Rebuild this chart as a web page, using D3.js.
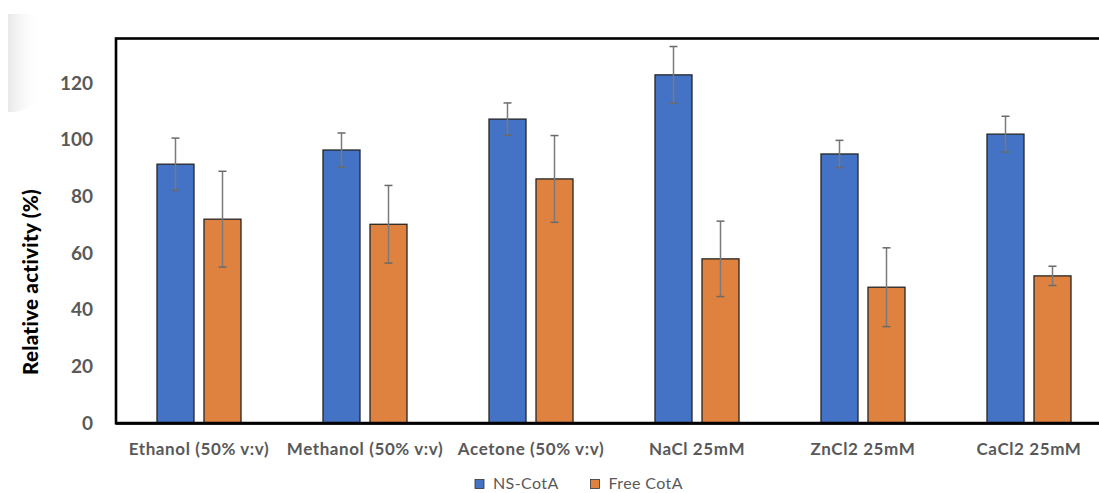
<!DOCTYPE html>
<html>
<head>
<meta charset="utf-8">
<script src="https://cdn.jsdelivr.net/npm/d3@7"></script>
<style>
  html, body { margin: 0; padding: 0; background: #fff; }
  svg { display: block; font-family: Lato, "Open Sans", sans-serif; }
</style>
</head>
<body>
<svg id="chart" width="1099" height="493"></svg>
<script>
// Relative activity of immobilised vs free CotA after solvent / salt exposure
const categories = ["Ethanol (50% v:v)", "Methanol (50% v:v)", "Acetone (50% v:v)", "NaCl 25mM", "ZnCl2 25mM", "CaCl2 25mM"];
const seriesNames = ["NS-CotA", "Free CotA"];
const nsCotA = [91.4, 96.4, 107.3, 122.9, 95.0, 102.0];
const nsCotAErr = [9.2, 6.0, 5.7, 10.0, 4.8, 6.3];
const freeCotA = [72.0, 70.2, 86.2, 58.0, 48.0, 52.0];
const freeCotAErr = [16.9, 13.7, 15.3, 13.3, 13.9, 3.4];
const yTicks = [0, 20, 40, 60, 80, 100, 120];
const colors = ["#4472C4", "#E0823F"];

const svg = d3.select("#chart");

// faint shaded corner at the top left
const defs = svg.append("defs");
const grad = defs.append("linearGradient").attr("id", "corner").attr("x1", "0").attr("x2", "1");
grad.append("stop").attr("offset", "0").attr("stop-color", "#e8e8e8");
grad.append("stop").attr("offset", "1").attr("stop-color", "#ffffff").attr("stop-opacity", 0);
svg.append("path")
  .attr("d", "M8,14 H42 V80 Q42,108 14,112 H8 Z")
  .attr("fill", "url(#corner)");

const plot = { left: 116, top: 38.5, right: 1112, bottom: 423.3 };

const x0 = d3.scaleBand().domain(categories).range([plot.left, plot.right]).padding(0);
const groupW = 84;
const x1 = d3.scaleBand().domain(seriesNames).range([0, groupW]).paddingInner(10 / 47).paddingOuter(0);
const y = d3.scaleLinear().domain([0, 120]).range([plot.bottom, plot.bottom - 120 * 2.835]);

// plot-area frame
svg.append("rect")
  .attr("x", plot.left).attr("y", plot.top)
  .attr("width", plot.right - plot.left).attr("height", plot.bottom - plot.top)
  .attr("fill", "none").attr("stroke", "#000").attr("stroke-width", 2.6);

// y axis labels
const yAxis = d3.axisLeft(y).tickValues(yTicks).tickSize(0).tickPadding(23);
const gy = svg.append("g").attr("transform", `translate(${plot.left},0)`).call(yAxis);
gy.select(".domain").remove();
gy.selectAll("text")
  .attr("fill", "#595959").style("font-size", "19px").style("font-weight", "bold")
  .style("font-family", "Lato, sans-serif");

// bars
const rows = categories.map((c, i) => ({
  cat: c,
  vals: [
    { s: seriesNames[0], v: nsCotA[i], e: nsCotAErr[i] },
    { s: seriesNames[1], v: freeCotA[i], e: freeCotAErr[i] }
  ]
}));

const groups = svg.append("g").selectAll("g").data(rows).join("g")
  .attr("transform", d => `translate(${x0(d.cat) + (x0.bandwidth() - groupW) / 2},0)`);

groups.selectAll("rect").data(d => d.vals).join("rect")
  .attr("x", d => x1(d.s))
  .attr("y", d => y(d.v))
  .attr("width", x1.bandwidth())
  .attr("height", d => y(0) - y(d.v))
  .attr("fill", (d, i) => colors[i])
  .attr("stroke", "#262626")
  .attr("stroke-width", 1.3);

// error bars
const eb = groups.selectAll("g.err").data(d => d.vals).join("g").attr("class", "err")
  .attr("transform", d => `translate(${x1(d.s) + x1.bandwidth() / 2},0)`);
eb.append("line")
  .attr("x1", 0).attr("x2", 0)
  .attr("y1", d => y(d.v + d.e)).attr("y2", d => y(d.v - d.e))
  .attr("stroke", "#7a7a7a").attr("stroke-width", 1.5);
eb.selectAll("line.cap").data(d => [d.v + d.e, d.v - d.e]).join("line").attr("class", "cap")
  .attr("x1", -4).attr("x2", 4)
  .attr("y1", v => y(v)).attr("y2", v => y(v))
  .attr("stroke", "#6a6a6a").attr("stroke-width", 1.5);

// baseline
svg.append("line")
  .attr("x1", plot.left).attr("x2", plot.right)
  .attr("y1", y(0)).attr("y2", y(0))
  .attr("stroke", "#000").attr("stroke-width", 3);

// category labels
const xAxis = d3.axisBottom(x0).tickSize(0).tickPadding(20);
const gx = svg.append("g").attr("transform", `translate(0,${y(0)})`).call(xAxis);
gx.select(".domain").remove();
gx.selectAll("text")
  .attr("fill", "#595959").style("font-size", "17px").style("font-weight", "bold")
  .style("letter-spacing", "0.6px")
  .style("font-family", "Lato, sans-serif");

// y axis title
svg.append("text")
  .attr("transform", "translate(38,282) rotate(-90)")
  .attr("text-anchor", "middle")
  .style("font-size", "20.5px").style("font-weight", "900")
  .style("letter-spacing", "0.3px")
  .attr("fill", "#000")
  .text("Relative activity (%)");

// legend
const legend = svg.append("g");
const legendX = [475, 590.5];
seriesNames.forEach((s, i) => {
  const g = legend.append("g").attr("transform", `translate(${legendX[i]},479.5)`);
  g.append("rect").attr("width", 9).attr("height", 9)
    .attr("fill", colors[i]).attr("stroke", "#333").attr("stroke-width", 0.8);
  g.append("text").attr("x", 18).attr("y", 9.5)
    .attr("fill", "#595959").style("font-size", "16px")
    .style("letter-spacing", "0.4px")
    .text(s);
});
</script>
</body>
</html>
